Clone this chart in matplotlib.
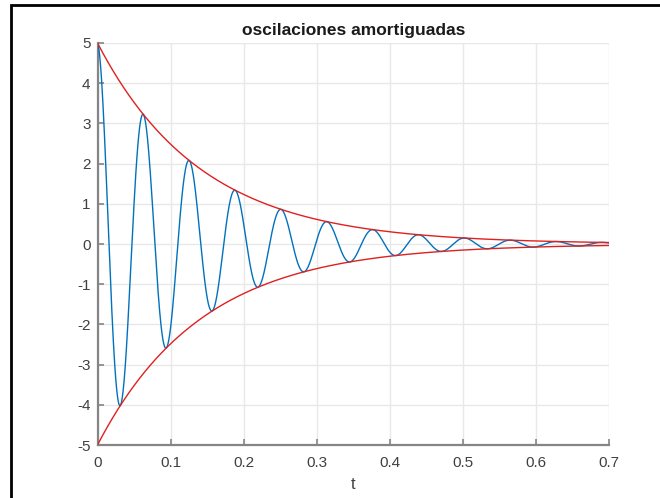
import numpy as np
import matplotlib
matplotlib.use("Agg")
import matplotlib.pyplot as plt
from matplotlib.patches import Rectangle

# damped oscillation parameters
amplitude = 5.0
decay = 7.0       # 1/s
omega = 100.0     # rad/s
t_end = 0.7
n_samples = 2000

x_ticks = [0, 0.1, 0.2, 0.3, 0.4, 0.5, 0.6, 0.7]
y_ticks = [-5, -4, -3, -2, -1, 0, 1, 2, 3, 4, 5]

t = np.linspace(0, t_end, n_samples)
envelope = amplitude * np.exp(-decay * t)
y = envelope * np.cos(omega * t)

plt.rcParams['font.family'] = ['Liberation Sans', 'DejaVu Sans']

fig = plt.figure(figsize=(6.6, 4.98), dpi=100)
ax = fig.add_axes([97.5 / 660, 1 - 445 / 498, (609 - 97.5) / 660, (445 - 43) / 498])

ax.plot(t, y, color='#0072BD', lw=1.0, zorder=3)
ax.plot(t, envelope, color='#E02020', lw=1.0, zorder=4)
ax.plot(t, -envelope, color='#E02020', lw=1.0, zorder=4)

ax.set_xlim(0, t_end)
ax.set_ylim(-5, 5)
ax.set_xticks(x_ticks)
ax.set_yticks(y_ticks)
ax.set_xticklabels([f"{v:g}" for v in x_ticks])
ax.set_yticklabels([f"{v:g}" for v in y_ticks])

ax.grid(True, color='#e8e8e8', lw=1.0)
ax.set_axisbelow(True)
for side in ('top', 'right'):
    ax.spines[side].set_visible(False)
for side in ('left', 'bottom'):
    ax.spines[side].set_color('#858585')
    ax.spines[side].set_linewidth(1.6)
ax.tick_params(direction='in', length=4, width=1.2, color='#858585',
               labelcolor='#404040', labelsize=11)
ax.tick_params(axis='y', pad=5)
ax.tick_params(axis='x', pad=8)

ax.set_title('oscilaciones amortiguadas', fontsize=12.5, fontweight='bold',
             color='#1a1a1a', pad=6)
ax.set_xlabel('t', fontsize=12, color='#404040', labelpad=5)

# outer frame
fig.patches.append(Rectangle((11 / 660, -0.1), 1.2, 1 - 5 / 498 + 0.1,
                             transform=fig.transFigure, fill=False,
                             edgecolor='black', lw=2.0))

fig.savefig('out.png', dpi=100)
